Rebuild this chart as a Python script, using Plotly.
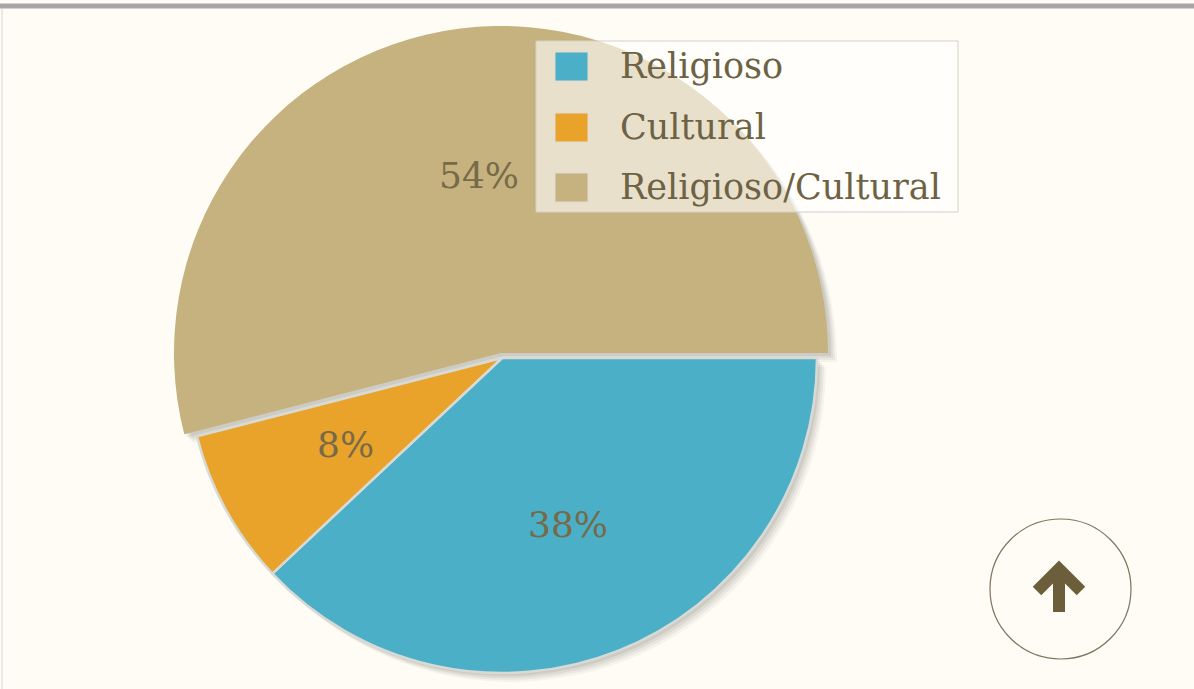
import math
import plotly.graph_objects as go

# ---- data ----
labels = ["Religioso", "Cultural", "Religioso/Cultural"]
values = [38, 8, 54]
colors = ["#4AAFC7", "#E9A22A", "#C5B27E"]

# ---- layout geometry (pixels) ----
W, H = 1194, 689
SMALL_C, SMALL_R = (502, 358), 315   # Religioso + Cultural
BIG_C, BIG_R = (501, 353), 327       # Religioso/Cultural (larger, raised)
LABEL_D = 179                        # distance of % labels from centre
BG = "#FEFCF4"
TXT = "#766A48"
FONT = "DejaVu Serif"
CLEAR = "rgba(0,0,0,0)"


def px(x):
    return x / W


def py(y):
    return 1 - y / H


def domain(c, r, dx=0, dy=0):
    cx, cy = c[0] + dx, c[1] + dy
    return dict(x=[px(cx - r), px(cx + r)], y=[max(0.0, py(cy + r)), min(1.0, py(cy - r))])


big_idx = 2
fig = go.Figure()

common = dict(labels=labels, values=values, sort=False, direction="clockwise",
              rotation=90, textinfo="none", hoverinfo="skip", showlegend=False)

# soft drop shadow
for off, a in [(9, 0.045), (7, 0.055), (5, 0.065), (3, 0.08)]:
    sh = f"rgba(40,40,30,{a})"
    fig.add_trace(go.Pie(**common, domain=domain(SMALL_C, SMALL_R, off, off),
                         marker=dict(colors=[sh if i != big_idx else CLEAR for i in range(3)],
                                     line=dict(width=0))))
    fig.add_trace(go.Pie(**common, domain=domain(BIG_C, BIG_R, off, off),
                         marker=dict(colors=[sh if i == big_idx else CLEAR for i in range(3)],
                                     line=dict(width=0))))

# main slices
fig.add_trace(go.Pie(**common, domain=domain(SMALL_C, SMALL_R),
                     marker=dict(colors=[c if i != big_idx else CLEAR for i, c in enumerate(colors)],
                                 line=dict(color="#D8DAD6",
                                           width=[2.5 if i != big_idx else 0 for i in range(3)]))))
fig.add_trace(go.Pie(**common, domain=domain(BIG_C, BIG_R),
                     marker=dict(colors=[c if i == big_idx else CLEAR for i, c in enumerate(colors)],
                                 line=dict(width=0))))

# percentage labels, placed on each slice's mid-angle
annotations = []
total = sum(values)
ang = 90.0
for i, v in enumerate(values):
    span = 360.0 * v / total
    mid = math.radians(ang + span / 2)
    ang += span
    c = BIG_C if i == big_idx else SMALL_C
    x = c[0] + LABEL_D * math.sin(mid)
    y = c[1] - LABEL_D * math.cos(mid)
    annotations.append(dict(x=px(x), y=py(y), xref="paper", yref="paper",
                            text=f"{round(100 * v / total)}%", showarrow=False,
                            xanchor="center", yanchor="middle",
                            font=dict(family=FONT, size=36, color=TXT)))

shapes = []
# legend box
LX0, LX1, LY0, LY1 = 536, 958, 41, 212
shapes.append(dict(type="rect", xref="paper", yref="paper", layer="above",
                   x0=px(LX0), x1=px(LX1), y0=py(LY1), y1=py(LY0),
                   fillcolor="rgba(255,255,255,0.6)", line=dict(color="#D3D0C8", width=1)))
row_y = [66, 127, 187]
for i, lab in enumerate(labels):
    yc = row_y[i]
    shapes.append(dict(type="rect", xref="paper", yref="paper", layer="above",
                       x0=px(555), x1=px(588), y0=py(yc + 15), y1=py(yc - 14),
                       fillcolor=colors[i], line=dict(color="#E2DAD2", width=1)))
    annotations.append(dict(x=px(618), y=py(yc), xref="paper", yref="paper",
                            text=lab, showarrow=False, xanchor="left", yanchor="middle",
                            font=dict(family=FONT, size=35, color="#6D6243")))

# page frame lines
shapes.append(dict(type="rect", xref="paper", yref="paper", layer="above",
                   x0=0, x1=1, y0=py(8.5), y1=py(3.5), fillcolor="#A6A6A6", line=dict(width=0)))
shapes.append(dict(type="line", xref="paper", yref="paper", layer="above",
                   x0=px(2), x1=px(2), y0=0, y1=py(9), line=dict(color="#D6D6D6", width=1)))

# scroll-to-top button
shapes.append(dict(type="circle", xref="paper", yref="paper", layer="above",
                   x0=px(990), x1=px(1131), y0=py(659), y1=py(519),
                   line=dict(color="#7D735F", width=1.2)))
arrow = (f"M {px(1037)},{py(591)} L {px(1059)},{py(569)} L {px(1081)},{py(591)} "
         f"M {px(1059)},{py(571)} L {px(1059)},{py(612)}")
shapes.append(dict(type="path", xref="paper", yref="paper", layer="above",
                   path=arrow, line=dict(color="#6C5E3A", width=12)))

fig.update_layout(width=W, height=H, margin=dict(l=0, r=0, t=0, b=0),
                  paper_bgcolor=BG, plot_bgcolor=BG, showlegend=False,
                  shapes=shapes, annotations=annotations)

fig.write_html("out.html")
